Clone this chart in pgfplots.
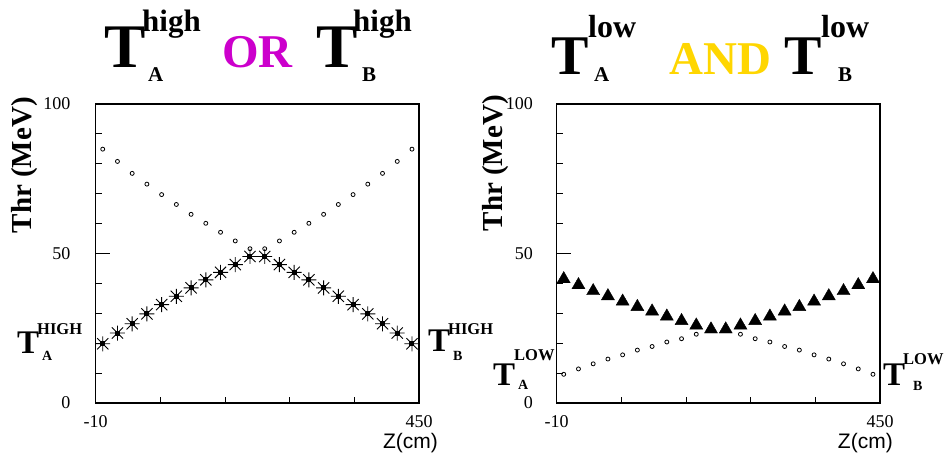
\documentclass[border=0pt]{standalone}
\usepackage{fontspec}
\setmainfont{Liberation Serif}
\newfontfamily\sansf{Liberation Sans}
\usepackage{pgfplots}
\usepackage{pgfplotstable}
\pgfplotsset{compat=1.18}
\definecolor{ormag}{RGB}{204,0,204}
\definecolor{andgold}{RGB}{255,214,0}
\newcommand\fs[1]{\fontsize{#1}{#1}\selectfont}

% ROOT-like asterisk: + and x with a filled centre
\pgfdeclareplotmark{rootstar}{%
  \pgfpathmoveto{\pgfqpoint{-\pgfplotmarksize}{0pt}}%
  \pgfpathlineto{\pgfqpoint{\pgfplotmarksize}{0pt}}%
  \pgfpathmoveto{\pgfqpoint{0pt}{-\pgfplotmarksize}}%
  \pgfpathlineto{\pgfqpoint{0pt}{\pgfplotmarksize}}%
  \pgfpathmoveto{\pgfqpoint{-.75\pgfplotmarksize}{-.75\pgfplotmarksize}}%
  \pgfpathlineto{\pgfqpoint{.75\pgfplotmarksize}{.75\pgfplotmarksize}}%
  \pgfpathmoveto{\pgfqpoint{-.75\pgfplotmarksize}{.75\pgfplotmarksize}}%
  \pgfpathlineto{\pgfqpoint{.75\pgfplotmarksize}{-.75\pgfplotmarksize}}%
  \pgfusepathqstroke
  \pgfpathrectangle{\pgfqpoint{-2.5pt}{-2.5pt}}{\pgfqpoint{5pt}{5pt}}%
  \pgfusepathqfill
}

\pgfplotstableread{
z      circ  star
0      84.9  19.8
20.95  80.8  23.4
41.90  76.8  26.5
62.86  73.2  29.8
83.81  69.7  32.9
104.76 66.4  35.7
125.71 63.1  38.5
146.67 60.1  41.2
167.62 57.1  43.7
188.57 54.2  46.3
209.52 51.6  49.0
230.48 51.6  49.0
251.43 54.2  46.3
272.38 57.1  43.7
293.33 60.1  41.2
314.29 63.1  38.5
335.24 66.4  35.7
356.19 69.7  32.9
377.14 73.2  29.8
398.10 76.8  26.5
419.05 80.8  23.4
440    84.9  19.8
}\hightab

\pgfplotstableread{
z      circ  tri
0      9.6   42.1
20.95  11.4  40.1
41.90  13.1  38.1
62.86  14.7  36.4
83.81  16.1  34.6
104.76 17.7  32.8
125.71 18.9  31.3
146.67 20.4  29.6
167.62 21.5  28.1
188.57 23.0  26.6
209.52 24.3  25.3
230.48 24.3  25.3
251.43 23.0  26.6
272.38 21.5  28.1
293.33 20.4  29.6
314.29 18.9  31.3
335.24 17.7  32.8
356.19 16.1  34.6
377.14 14.7  36.4
398.10 13.1  38.1
419.05 11.4  40.1
440    9.6   42.1
}\lowtab

\pgfplotsset{rootaxis/.style={
  scale only axis, width=323.3pt, height=299pt,
  anchor=south west,
  xmin=-10, xmax=450, ymin=0, ymax=100,
  xtick={-10,450}, xticklabels={-10,450},
  ytick={0,50,100}, yticklabels={0,50,100},
  minor xtick={82,174,266,358},
  minor ytick={10,20,30,40,60,70,80,90},
  tick align=inside, tick pos=left,
  major tick length=14pt, minor tick length=6.5pt,
  tick style={black, line width=1pt},
  axis line style={line width=1.2pt},
  clip=false,
  ticklabel style={font=\fs{18}},
  xticklabel style={anchor=north, inner sep=0pt, yshift=-12pt},
  ylabel={Thr (MeV)},
  ylabel style={font=\fs{29}\bfseries, anchor=base east, inner sep=0pt},
  xlabel={Z(cm)},
  xlabel style={font=\sansf\fs{21}, anchor=base east, inner sep=0pt},
}}

\begin{document}
\begin{tikzpicture}
\path[use as bounding box] (0,0) rectangle (952pt,455pt);

\begin{axis}[rootaxis, at={(95.7pt,52pt)},
  yticklabel style={anchor=east, inner sep=0pt, xshift=-25pt},
  ylabel style={at={(axis description cs:-0.2,1.0234)}},
  xlabel style={at={(axis description cs:1.0588,-0.1505)}}]
\addplot[only marks, mark=o, mark size=2pt, mark options={line width=0.8pt}] table[x=z, y=circ] {\hightab};
\addplot[only marks, mark=rootstar, mark size=7.5pt, mark options={line width=0.9pt}] table[x=z, y=star] {\hightab};
\end{axis}

\begin{axis}[rootaxis, at={(556.7pt,52pt)},
  yticklabel style={anchor=east, inner sep=0pt, xshift=-23.7pt},
  ylabel style={at={(axis description cs:-0.169,1.030)}},
  xlabel style={at={(axis description cs:1.040,-0.1505)}}]
\addplot[only marks, mark=o, mark size=2pt, mark options={line width=0.8pt}] table[x=z, y=circ] {\lowtab};
\addplot[only marks, mark=triangle*, mark size=7.5pt, mark options={yshift=-1.9pt}] table[x=z, y=tri] {\lowtab};
\end{axis}

\begin{scope}[every node/.style={anchor=base west, inner sep=0pt, font=\bfseries}]
% left title
\node at (104pt,387pt) {\fs{62}T};
\node at (142pt,423pt) {\fs{31}high};
\node at (148pt,373pt) {\fs{21}A};
\node[text=ormag] at (222pt,387pt) {\fs{47}OR};
\node at (316pt,387pt) {\fs{62}T};
\node at (353pt,423pt) {\fs{31}high};
\node at (362pt,373pt) {\fs{21}B};
% right title
\node at (551pt,380pt) {\fs{56}T};
\node at (588pt,417pt) {\fs{32}low};
\node at (594pt,373pt) {\fs{21}A};
\node[text=andgold] at (669pt,380pt) {\fs{47}AND};
\node at (784pt,380pt) {\fs{56}T};
\node at (821pt,417pt) {\fs{32}low};
\node at (838pt,373pt) {\fs{21}B};
% side labels, left panel
\node at (17pt,102pt) {\fs{33}T};
\node at (37pt,120pt) {\fs{16.5}HIGH};
\node at (42pt,94pt) {\fs{14}A};
\node at (428pt,103pt) {\fs{33}T};
\node at (448pt,120pt) {\fs{16.5}HIGH};
\node at (453pt,95pt) {\fs{14}B};
% side labels, right panel
\node at (493pt,70pt) {\fs{33}T};
\node at (514pt,94pt) {\fs{16.5}LOW};
\node at (518pt,66pt) {\fs{14}A};
\node at (883pt,70pt) {\fs{33}T};
\node at (903pt,90pt) {\fs{16.5}LOW};
\node at (913pt,65pt) {\fs{14}B};
\end{scope}
\end{tikzpicture}
\end{document}
